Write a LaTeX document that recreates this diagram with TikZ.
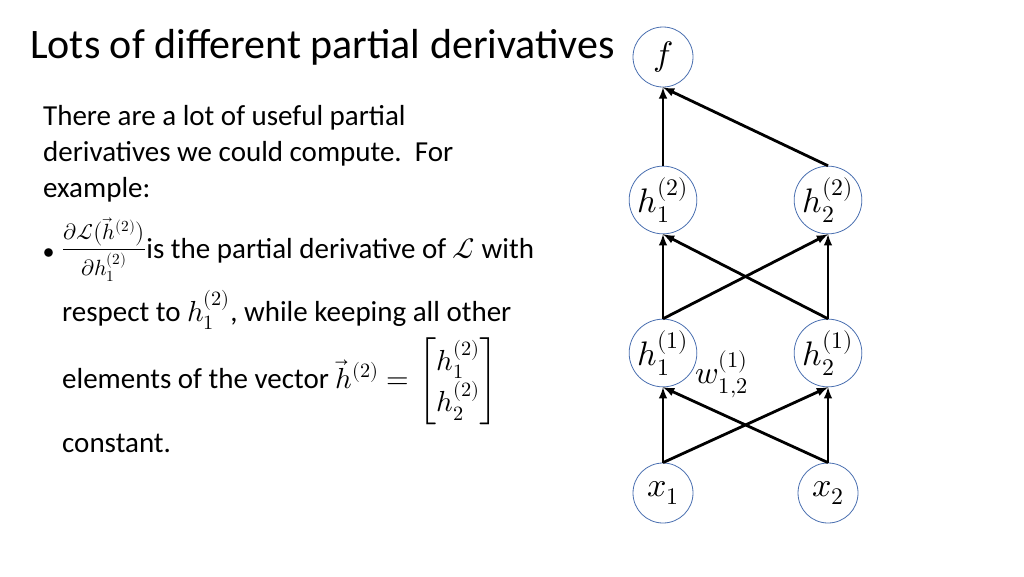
\documentclass[tikz,border=0pt]{standalone}
\usepackage{amsmath}
\usepackage{fontspec}
\usepackage{unicode-math}
\setmainfont{Carlito}
\setmathfont{Latin Modern Math}
\definecolor{ringblue}{HTML}{4A6FB0}
\begin{document}
\begin{tikzpicture}[x=1pt,y=-1pt,
  neuron/.style={draw=ringblue,line width=0.8pt,circle,minimum size=60pt,inner sep=0pt,font=\fontsize{34}{36}\selectfont},
  conn/.style={line width=2.8pt,-latex},
  txt/.style={anchor=base west,inner sep=0pt,font=\fontsize{29}{32}\selectfont}]
\useasboundingbox (0,0) rectangle (1024,576);
\node[anchor=base west,inner sep=0pt,font=\fontsize{42}{46}\selectfont] (title) at (30,58) {Lots of different partial derivatives};
\node[txt] (p1) at (43,125) {There are a lot of useful partial};
\node[txt] (p2) at (43,161) {derivatives we could compute.\ \ For};
\node[txt] (p3) at (43,197) {example:};
\node[txt,font=\fontsize{22}{24}\selectfont] (bul) at (43,258) {$\bullet$};
\node[anchor=west,inner sep=0pt,font=\fontsize{22}{24}\selectfont] (frac) at (62,250) {$\dfrac{\partial\mathcal{L}\big(\vec{h}^{(2)}\big)}{\partial h_1^{(2)}}$};
\node[txt] (b1) at (frac.east |- bul.base) {is the partial derivative of $\mathcal{L}$ with};
\node[txt] (b2) at (62,321) {respect to $h_1^{(2)}$, while keeping all other};
\node[txt] (b3) at (62,388) {elements of the vector $\vec{h}^{(2)}=\begin{bmatrix}h_1^{(2)}\\[2pt] h_2^{(2)}\end{bmatrix}$};
\node[txt] (b4) at (62,452) {constant.};
\node[neuron] (f) at (663,57) {$f$};
\node[neuron] (h21) at (663,200) {$h_1^{(2)}$};
\node[neuron] (h22) at (828,200) {$h_2^{(2)}$};
\node[neuron] (h11) at (663,353) {$h_1^{(1)}$};
\node[neuron] (h12) at (828,353) {$h_2^{(1)}$};
\node[neuron] (x1) at (663,493) {$x_1$};
\node[neuron] (x2) at (828,493) {$x_2$};
\draw[conn] (x1.north) -- (h11.south);
\draw[conn] (x1.north) -- (h12.south);
\draw[conn] (x2.north) -- (h12.south);
\draw[conn] (x2.north) -- (h11.south);
\draw[conn] (h11.north) -- (h21.south);
\draw[conn] (h11.north) -- (h22.south);
\draw[conn] (h12.north) -- (h22.south);
\draw[conn] (h12.north) -- (h21.south);
\draw[conn] (h21.north) -- (f.south);
\draw[conn] (h22.north) -- (f.south);
\node[inner sep=0pt,font=\fontsize{32}{34}\selectfont] (w) at (722,374) {$w_{1,2}^{(1)}$};
\end{tikzpicture}
\end{document}
